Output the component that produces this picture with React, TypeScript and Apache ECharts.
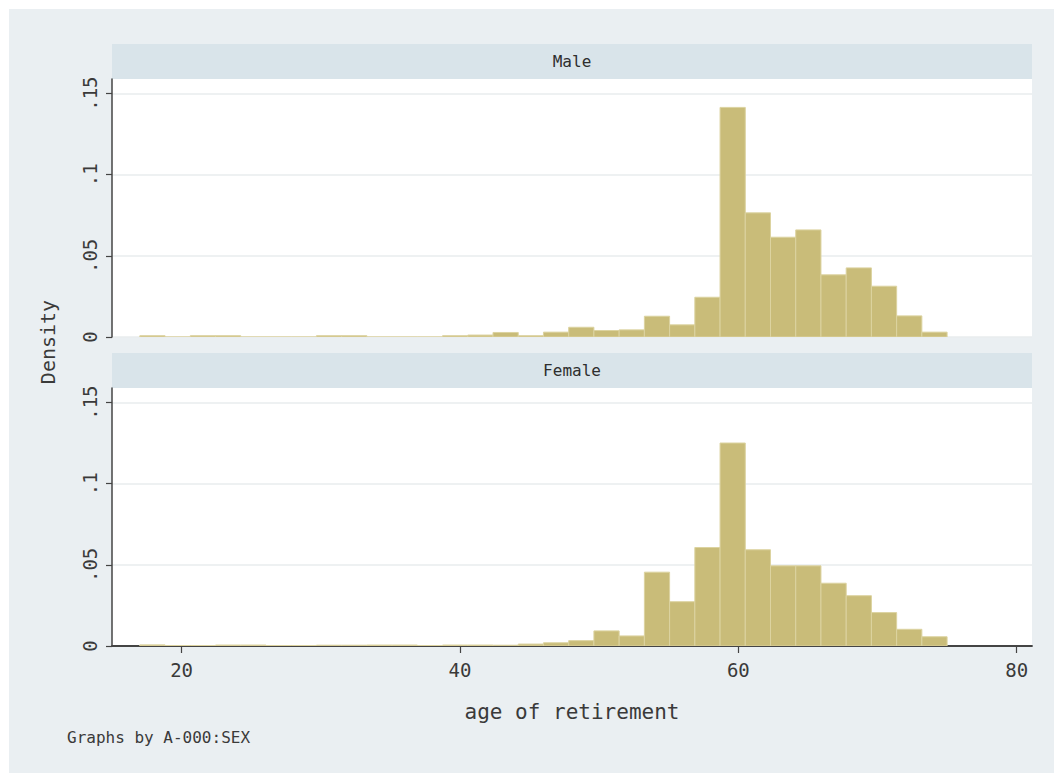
import React, { useEffect, useRef } from "react";
import * as echarts from "echarts";

// Histogram bins: 32 bins from age 17 to 75
const BIN_START = 17;
const BIN_WIDTH = 1.8125;

const panelTitles = ["Male", "Female"];

const maleDensity = [
  0.0008, 0, 0.0008, 0.0008, 0, 0, 0, 0.0008, 0.0008, 0, 0, 0, 0.0008, 0.0012,
  0.0028, 0.0008, 0.003, 0.006, 0.004, 0.0044, 0.0128, 0.0075, 0.0245, 0.1415,
  0.0765, 0.0615, 0.066, 0.0383, 0.0426, 0.0313, 0.013, 0.003,
];

const femaleDensity = [
  0.0007, 0.0003, 0.0003, 0.0006, 0.0006, 0.0003, 0.0003, 0.0005, 0.0005,
  0.0006, 0.0006, 0.0003, 0.0006, 0.0006, 0.0005, 0.0012, 0.002, 0.0033,
  0.0093, 0.0062, 0.0455, 0.0273, 0.0607, 0.1251, 0.0593, 0.0494, 0.0494,
  0.0387, 0.031, 0.0206, 0.0103, 0.0057,
];

const xTicks = [20, 40, 60, 80];
const yTicks = [0, 0.05, 0.1, 0.15];

const xTitle = "age of retirement";
const yTitle = "Density";
const note = "Graphs by A-000:SEX";

const FONT = "DejaVu Sans Mono";
const TEXT = "#3a3a3a";
const BAR_FILL = "#c9bc79";
const BAR_STROKE = "#dcd3a0";

function toBins(values: number[]) {
  return values.map((v, i) => [
    BIN_START + i * BIN_WIDTH,
    BIN_START + (i + 1) * BIN_WIDTH,
    v,
  ]);
}

export default function App() {
  const ref = useRef<HTMLDivElement>(null);

  useEffect(() => {
    if (!ref.current) return;
    const chart = echarts.init(ref.current, undefined, { renderer: "svg" });

    const grids = [
      { left: 103, top: 70, width: 920, height: 258 },
      { left: 103, top: 379, width: 920, height: 258 },
    ];

    const renderItem = (params: any, api: any) => {
      const x0 = api.value(0);
      const x1 = api.value(1);
      const y = api.value(2);
      const p0 = api.coord([x0, y]);
      const p1 = api.coord([x1, 0]);
      return {
        type: "rect",
        shape: {
          x: p0[0],
          y: p0[1],
          width: p1[0] - p0[0],
          height: p1[1] - p0[1],
        },
        style: { fill: BAR_FILL, stroke: BAR_STROKE, lineWidth: 1 },
      };
    };

    const yAxisCommon = (gi: number) => ({
      type: "value",
      gridIndex: gi,
      min: 0,
      max: 0.159,
      interval: 0.05,
      axisLine: { show: true, lineStyle: { color: "#444", width: 1.5 } },
      axisTick: {
        show: true,
        length: 6,
        customValues: yTicks,
        lineStyle: { color: "#444", width: 1.2 },
      },
      axisLabel: {
        customValues: yTicks,
        rotate: 90,
        margin: 13,
        fontFamily: FONT,
        fontSize: 19,
        color: TEXT,
        formatter: (v: number) => (v === 0 ? "0" : String(v).replace(/^0/, "")),
      },
      splitLine: { show: true, lineStyle: { color: "#e9ecee", width: 1.5 } },
    });

    const xAxisCommon = (gi: number, show: boolean) => ({
      type: "value",
      gridIndex: gi,
      min: 15,
      max: 81.1,
      show,
      axisLine: { show: true, onZero: false, lineStyle: { color: "#444", width: 1.8 } },
      axisTick: {
        show: true,
        length: 7,
        customValues: xTicks,
        lineStyle: { color: "#444", width: 1.2 },
      },
      axisLabel: {
        customValues: xTicks,
        margin: 14,
        fontFamily: FONT,
        fontSize: 19,
        color: TEXT,
      },
      splitLine: { show: false },
    });

    const stripGraphics = grids.map((g, i) => [
      {
        type: "rect",
        shape: { x: g.left, y: g.top - 35, width: g.width, height: 35 },
        style: { fill: "#d9e4ea" },
        silent: true,
      },
      {
        type: "text",
        x: g.left + g.width / 2,
        y: g.top - 17.5,
        style: {
          text: panelTitles[i],
          fontFamily: FONT,
          fontSize: 16,
          fill: "#2e2e2e",
          align: "center",
          verticalAlign: "middle",
        },
        silent: true,
      },
    ]).flat();

    chart.setOption({
      animation: false,
      backgroundColor: "#eaeff2",
      grid: grids.map((g) => ({
        ...g,
        show: true,
        backgroundColor: "#ffffff",
        borderWidth: 0,
      })),
      xAxis: [xAxisCommon(0, false), xAxisCommon(1, true)],
      yAxis: [yAxisCommon(0), yAxisCommon(1)],
      series: [
        {
          type: "custom",
          xAxisIndex: 0,
          yAxisIndex: 0,
          renderItem,
          encode: { x: [0, 1], y: 2 },
          data: toBins(maleDensity),
          clip: true,
        },
        {
          type: "custom",
          xAxisIndex: 1,
          yAxisIndex: 1,
          renderItem,
          encode: { x: [0, 1], y: 2 },
          data: toBins(femaleDensity),
          clip: true,
        },
      ],
      graphic: [
        ...stripGraphics,
        {
          type: "text",
          x: 39,
          y: 333,
          rotation: Math.PI / 2,
          style: {
            text: yTitle,
            fontFamily: FONT,
            fontSize: 20,
            fill: TEXT,
            align: "center",
            verticalAlign: "middle",
          },
        },
        {
          type: "text",
          x: 563,
          y: 703,
          style: {
            text: xTitle,
            fontFamily: FONT,
            fontSize: 21,
            fill: TEXT,
            align: "center",
            verticalAlign: "middle",
          },
        },
        {
          type: "text",
          x: 58,
          y: 728,
          style: {
            text: note,
            fontFamily: FONT,
            fontSize: 16,
            fill: TEXT,
            align: "left",
            verticalAlign: "middle",
          },
        },
      ],
    });

    const onResize = () => chart.resize();
    window.addEventListener("resize", onResize);
    return () => {
      window.removeEventListener("resize", onResize);
      chart.dispose();
    };
  }, []);

  return (
    <div
      ref={ref}
      style={{ position: "fixed", left: 9, top: 9, right: 0, bottom: 0 }}
    />
  );
}
